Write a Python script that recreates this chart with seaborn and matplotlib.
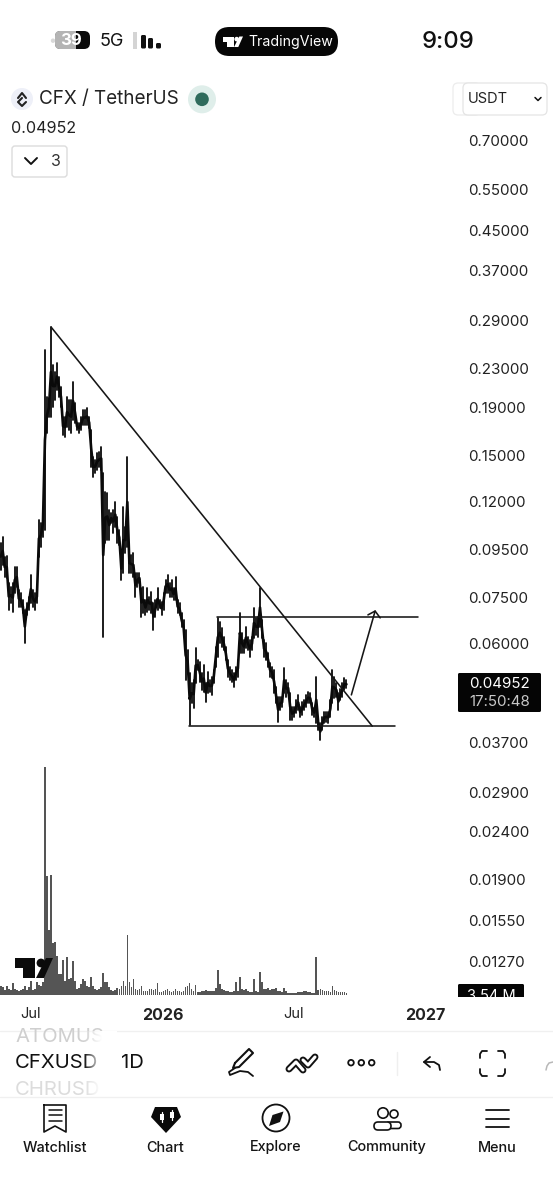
import numpy as np
import pandas as pd
import matplotlib
matplotlib.use("Agg")
import matplotlib.pyplot as plt
import matplotlib.dates as mdates
from matplotlib.patches import Circle, FancyBboxPatch, Polygon, Rectangle
import seaborn as sns

# ---------- data ----------
candle_high = [
    .0979,.1009,.0915,.0920,.0806,.0790,.0806,.0872,.0872,.0779,.0768,.0742,.0707,.0731,.0753,.0838,.0779,.0768,.0779,.1096,.1080,.1151,.2512,
    .1997,.1987,.2811,.2335,.2257,.2358,.2202,.2097,.1811,.1811,.1997,.1968,.1968,.2148,.1940,.1759,.1759,.1811,.1875,.1875,.1893,.1811,
    .1700,.1490,.1469,.1520,.1527,.1565,.1379,.1257,.1251,.1151,.1134,.1151,.1196,.1112,.1044,.0915,.1168,.1059,.1490,.0933,.0924,.0933,
    .0846,.0846,.0846,.0787,.0790,.0742,.0787,.0753,.0771,.0731,.0742,.0787,.0742,.0735,.0768,.0818,.0838,.0806,.0818,.0787,.0830,.0742,
    .0731,.0697,.0673,.0641,.0581,.0520,.0495,.0502,.0587,.0554,.0549,.0520,.0540,.0495,.0522,.0502,.0510,.0527,.0590,.0680,.0666,.0647,
    .0619,.0590,.0554,.0536,.0527,.0520,.0536,.0554,.0697,.0632,.0610,.0650,.0619,.0610,.0619,.0714,.0680,.0683,.0787,.0673,.0610,.0601,
    .0573,.0546,.0536,.0527,.0485,.0462,.0462,.0462,.0533,.0502,.0495,.0471,.0440,.0440,.0455,.0467,.0440,.0451,.0455,.0467,.0474,.0471,
    .0448,.0438,.0510,.0419,.0407,.0419,.0430,.0430,.0430,.0455,.0527,.0510,.0495,.0471,.0480,.0495,.0507,.0502,
]
candle_low = [
    .0859,.0880,.0830,.0826,.0707,.0731,.0700,.0768,.0790,.0717,.0717,.0697,.0601,.0690,.0707,.0731,.0717,.0707,.0731,.0915,.0961,.1009,.1044,
    .1675,.1811,.1811,.1902,.1968,.2067,.1997,.1902,.1659,.1643,.1725,.1700,.1675,.1785,.1759,.1700,.1675,.1700,.1742,.1742,.1742,.1717,
    .1421,.1352,.1379,.1399,.1421,.1399,.0619,.0979,.0994,.0994,.1080,.1029,.1059,.0979,.0970,.0818,.0846,.0933,.0961,.0846,.0846,.0830,
    .0753,.0790,.0806,.0683,.0697,.0690,.0700,.0707,.0697,.0641,.0683,.0707,.0714,.0690,.0707,.0768,.0768,.0753,.0753,.0742,.0742,.0697,
    .0690,.0650,.0625,.0502,.0520,.0403,.0448,.0438,.0495,.0527,.0497,.0478,.0474,.0451,.0471,.0474,.0467,.0495,.0536,.0562,.0601,.0590,
    .0581,.0554,.0510,.0502,.0497,.0485,.0502,.0510,.0573,.0573,.0573,.0587,.0581,.0562,.0581,.0616,.0625,.0619,.0650,.0616,.0562,.0554,
    .0536,.0510,.0507,.0471,.0448,.0409,.0434,.0440,.0471,.0462,.0471,.0413,.0413,.0419,.0428,.0434,.0419,.0423,.0434,.0440,.0448,.0448,
    .0423,.0419,.0407,.0393,.0375,.0393,.0407,.0409,.0407,.0419,.0448,.0459,.0462,.0434,.0455,.0462,.0478,.0482,
]
volume_m = [
    11,10,6,11,7,6,14,7,6,5,6,7,11,6,10,17,6,7,16,12,11,16,
    274,143,78,144,62,64,47,25,25,42,17,46,19,20,41,17,7,8,13,19,17,11,10,
    22,11,7,6,7,10,26,16,16,10,6,5,6,8,7,11,17,11,72,16,10,19,
    7,6,7,11,5,5,5,7,7,6,7,14,4,4,5,6,7,5,4,5,7,5,
    5,4,5,10,11,14,7,5,12,4,4,5,5,6,5,5,5,5,8,30,13,7,
    6,5,5,4,4,5,16,5,22,7,6,7,5,4,4,19,5,4,28,16,7,7,
    8,6,7,7,8,5,5,4,8,5,3,3,3,3,3,4,4,4,5,5,4,4,
    3,3,46,6,7,6,5,5,5,4,11,6,5,4,4,4,4,3,
]
price_ticks = [0.70, 0.55, 0.45, 0.37, 0.29, 0.23, 0.19, 0.15, 0.12, 0.095, 0.075,
               0.06, 0.037, 0.029, 0.024, 0.019, 0.0155, 0.0127]
price_tick_labels = ["0.70000", "0.55000", "0.45000", "0.37000", "0.29000", "0.23000",
                     "0.19000", "0.15000", "0.12000", "0.09500", "0.07500", "0.06000",
                     "0.03700", "0.02900", "0.02400", "0.01900", "0.01550", "0.01270"]
time_ticks = ["2025-07-01", "2026-01-01", "2026-07-01", "2027-01-01"]
time_tick_labels = ["Jul", "2026", "Jul", "2027"]

trend_dates = ["2025-07-30", "2026-10-19"]
trend_prices = [0.281, 0.0401]
support_dates = ["2026-02-06", "2026-11-19"]
support_prices = [0.0402, 0.0402]
resist_dates = ["2026-03-17", "2026-12-22"]
resist_prices = [0.0684, 0.0684]
arrow_dates = ["2026-09-20", "2026-10-06", "2026-10-23"]
arrow_prices = [0.0467, 0.0570, 0.0703]
head_dates = ["2026-10-13", "2026-10-23", "2026-10-30"]
head_prices = [0.0690, 0.0703, 0.0680]

last_price = "0.04952"
countdown = "17:50:48"
last_volume = "3.54 M"

# ---------- setup ----------
sns.set_theme(style="white")
plt.rcParams["font.family"] = ["Inter", "DejaVu Sans"]
W, H = 553, 1200
fig = plt.figure(figsize=(W / 100, H / 100), dpi=100, facecolor="white")

x_start = pd.Timestamp("2025-05-20")
x_end = x_start + pd.Timedelta(days=458 / 0.72)
dates = pd.date_range("2025-05-21", periods=len(candle_high), freq="67h")

# volume pane
ax_vol = fig.add_axes([0, 205 / H, 458 / W, 235 / H])
vol_num = mdates.date2num(dates.to_pydatetime())
sns.barplot(x=vol_num, y=volume_m, native_scale=True, color="#555555", saturation=1,
            errorbar=None, width=0.8, linewidth=0, ax=ax_vol)
ax_vol.set_xlim(mdates.date2num(x_start.to_pydatetime()), mdates.date2num(x_end.to_pydatetime()))
ax_vol.set_ylim(0, 282)
ax_vol.axis("off")

# price pane
ax = fig.add_axes([0, 205 / H, 458 / W, 895 / H])
ax.patch.set_alpha(0)
wicks = pd.DataFrame({
    "date": np.concatenate([dates, dates]),
    "price": candle_high + candle_low,
    "candle": np.concatenate([np.arange(len(dates)), np.arange(len(dates))]),
})
sns.lineplot(data=wicks, x="date", y="price", units="candle", estimator=None,
             color="#0a0a0a", lw=1.3, ax=ax, legend=False)
closes = np.sqrt(np.array(candle_high) * np.array(candle_low))
sns.lineplot(x=dates, y=closes, estimator=None, color="#0a0a0a", lw=1.9, ax=ax, legend=False)
for d, p in [(trend_dates, trend_prices), (support_dates, support_prices),
             (resist_dates, resist_prices), (arrow_dates, arrow_prices), (head_dates, head_prices)]:
    sns.lineplot(x=pd.to_datetime(d), y=p, sort=False, estimator=None, color="#161616", lw=1.15, ax=ax)
ax.set_yscale("log")
ax.set_ylim(0.0108, 0.851)
ax.set_xlim(x_start, x_end)
ax.yaxis.tick_right()
ax.set_yticks(price_ticks)
ax.set_yticklabels(price_tick_labels)
ax.yaxis.set_minor_locator(matplotlib.ticker.NullLocator())
ax.set_xticks(pd.to_datetime(time_ticks))
ax.set_xticklabels(time_tick_labels)
ax.tick_params(axis="y", length=0, pad=7.5, labelsize=10.9, labelcolor="#222222")
ax.tick_params(axis="x", length=0, pad=9, labelsize=10.5, labelcolor="#222222")
for lab in ax.get_xticklabels():
    if lab.get_text().startswith("20"):
        lab.set_fontweight("bold")
        lab.set_fontsize(11.5)
ax.set_xlabel("")
ax.set_ylabel("")
for s in ax.spines.values():
    s.set_visible(False)
ax.grid(False)

# ---------- app chrome, in pixel coordinates ----------
ov = fig.add_axes([0, 0, 1, 1], zorder=10)
ov.set_xlim(0, W)
ov.set_ylim(H, 0)
ov.axis("off")
ov.patch.set_alpha(0)
ov.set_autoscale_on(False)


def txt(x, y, s, size, color="#111111", ha="left", weight="normal", **kw):
    return ov.text(x, y + 1.5, s, fontsize=size, color=color, ha=ha, va="center", fontweight=weight, **kw)


def rrect(x0, y0, x1, y1, r, fc="none", ec="none", lw=1.0, z=2):
    p = FancyBboxPatch((x0 + r, y0 + r), x1 - x0 - 2 * r, y1 - y0 - 2 * r,
                       boxstyle=f"round,pad={r},rounding_size={r}", fc=fc, ec=ec, lw=lw, zorder=z)
    ov.add_patch(p)
    return p


def pl(xs, ys, color="#111111", lw=1.2, z=4):
    ov.plot(xs, ys, color=color, lw=lw, zorder=z, solid_capstyle="round", solid_joinstyle="round")


def tv_logo(x, y, w, color, z=5):
    k = w / 38.0
    ov.add_patch(Polygon([(x, y), (x + 20 * k, y), (x + 20 * k, y + 20 * k), (x + 8 * k, y + 20 * k),
                          (x + 8 * k, y + 10 * k), (x, y + 10 * k)], fc=color, ec="none", zorder=z))
    ov.add_patch(Circle((x + 26 * k, y + 5 * k), 4.4 * k, fc=color, ec="none", zorder=z))
    ov.add_patch(Polygon([(x + 31 * k, y), (x + 38 * k, y), (x + 29 * k, y + 20 * k), (x + 21 * k, y + 20 * k)],
                         fc=color, ec="none", zorder=z))


# status bar
ov.add_patch(Circle((53, 40.7), 2.2, fc="#d8d8d8", ec="none", zorder=1))
rrect(55, 31, 90, 49, 6, fc="#0a0a0a", z=2)
rrect(55, 31, 76, 49, 5, fc="#b4b4b4", z=3)
ov.add_patch(Rectangle((70, 31), 6, 18, fc="#b4b4b4", ec="none", zorder=3))
txt(71, 39, "39", 12, color="white", ha="center", weight="bold", zorder=5)
txt(100, 40.5, "5G", 13, color="#111111")
ov.add_patch(Rectangle((133, 32), 4, 17, fc="#d4d4d4", ec="none", zorder=3))
for bx, top, bw in [(141, 35, 5), (148, 38, 5), (156, 43, 5)]:
    rrect(bx, top, bx + bw, 48.5, 1.5, fc="#111111", z=3)
rrect(215, 27, 338, 56, 14.5, fc="#060606", z=2)
tv_logo(223, 36.5, 20, "white")
txt(248, 40.5, "TradingView", 10.2, color="white", zorder=5)
txt(448, 40, "9:09", 17.2, ha="center", weight="medium")

# header
ov.add_patch(Circle((22, 99), 11, fc="#eef0f8", ec="none", zorder=2))
pl([22, 18, 22, 26], [98, 102, 106, 102], color="#222222", lw=1.5)
pl([18, 22, 26], [98, 93, 98], color="#222222", lw=1.5)
txt(39, 98, "CFX / TetherUS", 13.6, color="#222222")
ov.add_patch(Circle((202, 99.3), 14, fc="#dfeeea", ec="none", zorder=2))
ov.add_patch(Circle((202, 99.3), 6.8, fc="#2f6b5c", ec="none", zorder=3))
txt(11, 127, last_price, 11.6, color="#222222")
rrect(12, 146, 67, 177, 3, fc="white", ec="#dcdcdc", lw=1.0)
pl([25, 31, 37], [158, 164, 158], color="#111111", lw=1.4)
txt(51, 160, "3", 11.5, color="#333333")
rrect(453, 83, 480, 115, 5, fc="white", ec="#ececec", lw=0.9, z=2)
rrect(463, 83, 547, 115, 5, fc="white", ec="#e4e4e4", lw=0.9, z=3)
txt(468, 97.5, "USDT", 10.5, color="#222222", zorder=5)
pl([535, 538, 541], [97.5, 100.5, 97.5], color="#111111", lw=1.1)

# price and volume tags
rrect(458, 673, 541, 712, 1.5, fc="#050505", z=3)
txt(499.5, 682.5, last_price, 10.9, color="white", ha="center", zorder=5)
txt(499.5, 700.5, countdown, 10.9, color="#c8c8c8", ha="center", zorder=5)
rrect(458, 984, 524, 1002, 1.5, fc="#050505", z=3)
txt(491, 995, last_volume, 10.5, color="white", ha="center", zorder=5)
ov.add_patch(Rectangle((440, 997), 113, 8, fc="white", ec="none", zorder=6))

# watermark logo
tv_logo(15, 958, 38, "#0b0b0b")

# symbol picker
pl([0, W], [1030.5, 1030.5], color="#f0f0f0", lw=1.0, z=1)
pl([0, W], [1096.5, 1096.5], color="#f0f0f0", lw=1.0, z=1)
txt(15, 1035.5, "ATOMUS", 14.6, color="#cfcfcf", zorder=2)
txt(15, 1088.5, "CHRUSD", 14.6, color="#dcdcdc", zorder=2)
txt(15, 1061.5, "CFXUSD", 14.6, color="#111111", zorder=2)
fade = np.ones((1, 40, 4))
fade[0, :, 3] = np.linspace(0, 1, 40)
ov.imshow(fade, extent=(84, 102, 1096, 1031), aspect="auto", zorder=3)
ov.add_patch(Rectangle((102, 1031), 15, 65, fc="white", ec="none", zorder=3))
ov.set_xlim(0, W)
ov.set_ylim(H, 0)
txt(121, 1061.5, "1D", 14.6, color="#111111", zorder=5)

# toolbar icons
pl([235, 249, 253, 239, 233, 235], [1063, 1049, 1053, 1067, 1068, 1063], lw=1.5)
pl([235, 229, 230, 240, 248, 253], [1068, 1072, 1075, 1071, 1072, 1076], lw=1.3)
for xs, ys in [([289, 296, 303], [1069, 1062, 1070]), ([303, 308, 315], [1060, 1065, 1057])]:
    pl(xs, ys, lw=5.0, z=4)
    pl(xs, ys, color="white", lw=2.2, z=5)
for cx in (351, 361.3, 371.7):
    ov.add_patch(Circle((cx, 1062.7), 2.8, fc="white", ec="#111111", lw=1.3, zorder=4))
pl([397, 397], [1052, 1075], color="#efefef", lw=1.0)
pl([430, 424, 430], [1057, 1062, 1067], lw=1.3)
pl([424, 434, 439, 440], [1062, 1062, 1065, 1070], lw=1.3)
for xs, ys in [([480, 480, 482, 487], [1058, 1054, 1051, 1051]),
               ([505, 505, 503, 498], [1058, 1054, 1051, 1051]),
               ([480, 480, 482, 487], [1069, 1073, 1076, 1076]),
               ([505, 505, 503, 498], [1069, 1073, 1076, 1076])]:
    pl(xs, ys, lw=1.3)
pl([553, 549, 547, 546], [1062, 1063, 1066, 1070], color="#b8b8b8", lw=1.1)

# tab bar
pl([44, 66, 66, 55, 44, 44], [1105, 1105, 1132, 1126, 1132, 1105], lw=1.2)
for yy in (1109.5, 1115, 1120.5):
    pl([48.5, 61.5], [yy, yy], lw=1.1)
ov.add_patch(Polygon([(155, 1107), (177, 1107), (181, 1117), (166, 1133), (151, 1117)], fc="#0a0a0a", ec="none", zorder=3))
for cx, y0, y1 in [(162, 1114, 1120), (172, 1112, 1118)]:
    ov.add_patch(Rectangle((cx - 1.7, y0), 3.4, y1 - y0, fc="white", ec="none", zorder=4))
    pl([cx, cx], [y0 - 2, y1 + 2], color="white", lw=0.9)
ov.add_patch(Circle((276, 1118), 13.5, fc="white", ec="#111111", lw=1.3, zorder=3))
ov.add_patch(Polygon([(283.5, 1111.5), (280, 1122), (269, 1126), (272.5, 1115)], fc="#111111", ec="none", zorder=4))
ov.add_patch(Circle((383, 1113), 5.2, fc="white", ec="#111111", lw=1.2, zorder=4))
ov.add_patch(Circle((394, 1114), 4, fc="white", ec="#111111", lw=1.2, zorder=3))
rrect(386, 1122, 401, 1128.5, 3, fc="white", ec="#111111", lw=1.2, z=3)
rrect(374, 1122, 391, 1130, 4, fc="white", ec="#111111", lw=1.2, z=4)
for yy in (1110, 1118.5, 1127):
    pl([486, 509], [yy, yy], lw=1.3)
for cx, lab in [(55, "Watchlist"), (165.5, "Chart"), (276, "Explore"), (386.5, "Community"), (497, "Menu")]:
    txt(cx, 1146, lab, 10.4, ha="center", weight="medium", color="#151515")

fig.savefig("out.png", dpi=100, facecolor="white")
